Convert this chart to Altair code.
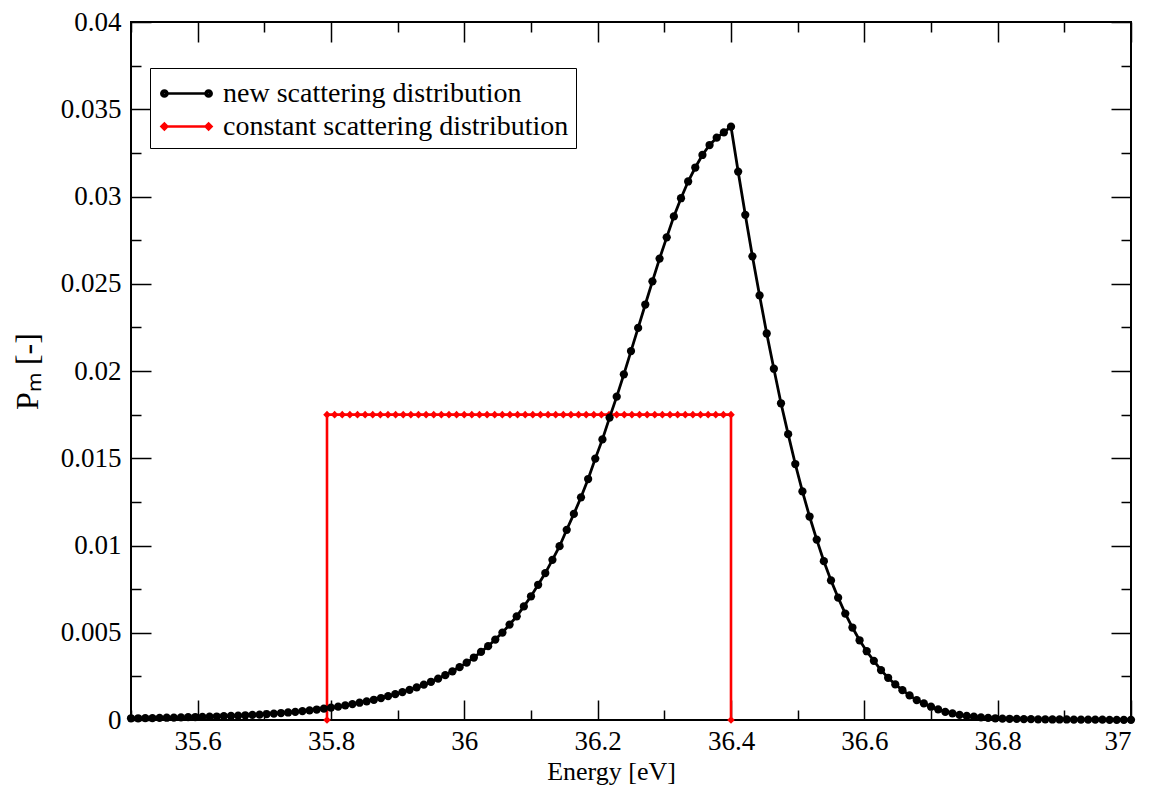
import altair as alt
import numpy as np
import pandas as pd

FONT = "Liberation Serif"

# ---- data ----
series_names = ["new scattering distribution", "constant scattering distribution"]
series_colors = ["black", "red"]

x_major = [35.6, 35.8, 36.0, 36.2, 36.4, 36.6, 36.8, 37.0]
x_minor = [35.5, 35.7, 35.9, 36.1, 36.3, 36.5, 36.7, 36.9]
y_major = [0, 0.005, 0.01, 0.015, 0.02, 0.025, 0.03, 0.035, 0.04]
y_minor = [0.0025, 0.0075, 0.0125, 0.0175, 0.0225, 0.0275, 0.0325, 0.0375]

# new scattering distribution, P_m at 141 evenly spaced energies 35.5 .. 37 eV
new_P = [
    0.00010, 0.00010, 0.00011, 0.00011, 0.00012, 0.00013, 0.00014, 0.00015, 0.00016, 0.00017,
    0.00018, 0.00019, 0.00020, 0.00022, 0.00023, 0.00025, 0.00027, 0.00029, 0.00031, 0.00034,
    0.00037, 0.00040, 0.00043, 0.00047, 0.00051, 0.00055, 0.00060, 0.00065, 0.00071, 0.00077,
    0.00084, 0.00091, 0.00099, 0.00107, 0.00116, 0.00126, 0.00137, 0.00148, 0.00160, 0.00173,
    0.00187, 0.00203, 0.00219, 0.00237, 0.00257, 0.00279, 0.00303, 0.00329, 0.00358, 0.00390,
    0.00423, 0.00461, 0.00501, 0.00547, 0.00594, 0.00651, 0.00709, 0.00775, 0.00842, 0.00918,
    0.00996, 0.01090, 0.01181, 0.01276, 0.01381, 0.01498, 0.01608, 0.01733, 0.01853, 0.01981,
    0.02114, 0.02247, 0.02381, 0.02514, 0.02644, 0.02766, 0.02886, 0.02990, 0.03086, 0.03166,
    0.03238, 0.03295, 0.03337, 0.03367, 0.03400,
    0.03143, 0.02895, 0.02657, 0.02433, 0.02215, 0.02013, 0.01815, 0.01638, 0.01467, 0.01310,
    0.01166, 0.01034, 0.00910, 0.00800, 0.00701, 0.00610, 0.00530, 0.00457, 0.00394, 0.00339,
    0.00286, 0.00242, 0.00204, 0.00171, 0.00141, 0.00114, 0.00095, 0.00076, 0.00061, 0.00047,
    0.00038, 0.00029, 0.00023, 0.00019, 0.00015, 0.00012, 0.00010, 0.00008, 0.00007, 0.00006,
    0.00005, 0.00005, 0.00004, 0.00004, 0.00003, 0.00003, 0.00003, 0.00002, 0.00002, 0.00002,
    0.00002, 0.00002, 0.00001, 0.00001, 0.00001, 0.00001,
]
new_E_start, new_E_end = 35.5, 37.0

# constant scattering distribution
const_E_start, const_E_end = 35.794, 36.4
const_level = 0.0175
const_n_points = 54

# ---- tables ----
new_E = np.linspace(new_E_start, new_E_end, len(new_P))
black_df = pd.DataFrame({"E": new_E, "P": new_P, "series": series_names[0]})

const_E = [const_E_start] + list(np.linspace(const_E_start, const_E_end, const_n_points)) + [const_E_end]
const_P = [0.0] + [const_level] * const_n_points + [0.0]
red_df = pd.DataFrame({"E": const_E, "P": const_P, "series": series_names[1],
                       "order": list(range(len(const_E)))})

W, H = 1000, 698

xs = alt.Scale(domain=[35.5, 37.0], nice=False, zero=False)
ys = alt.Scale(domain=[0, 0.04], nice=False, zero=False)


def tick_axis(orient, offset, values, size):
    return alt.Axis(orient=orient, offset=offset, values=values, labels=False,
                    domain=False, grid=False, ticks=True, tickSize=size,
                    tickWidth=1.5, tickColor="black", title=None)


def circ(cx, r):
    return (f"M{cx + r},0A{r},{r},0,1,0,{cx - r},0A{r},{r},0,1,0,{cx + r},0Z")


def diam(cx, r):
    return f"M{cx - r},0L{cx},{-r}L{cx + r},0L{cx},{r}Z"


half = 1.3
path_black = f"M{-half},0L{half},0" + "".join(circ(c, r) for c in (-half, half) for r in (0.18, 0.1, 0.03))
path_red = f"M{-half},0L{half},0" + "".join(diam(c, r) for c in (-half, half) for r in (0.17, 0.1, 0.04))

legend = alt.Legend(orient="none", legendX=19, legendY=46, title=None,
                    strokeColor="black", fillColor="white", padding=7,
                    symbolOffset=11, labelOffset=18, rowPadding=0,
                    symbolSize=34 * 34, symbolStrokeWidth=2.6, symbolOpacity=1,
                    labelFont=FONT, labelFontSize=28, labelColor="black",
                    labelLimit=600)

# layer carrying labelled axes + legend (draws nothing itself)
legend_layer = alt.Chart(black_df).transform_filter("false").mark_point(
    filled=False, strokeWidth=2.6, opacity=1
).encode(
    x=alt.X("E:Q", scale=xs, axis=alt.Axis(
        orient="bottom", values=x_major, format=".1~f", ticks=False, tickSize=0,
        domain=False, grid=False, labelFont=FONT, labelFontSize=27, labelPadding=8,
        labelColor="black", title="Energy [eV]", titleFont=FONT, titleFontSize=26,
        titleFontWeight="normal", titleColor="black", titleX=480, titleY=51,
        titleBaseline="middle", titleAlign="center")),
    y=alt.Y("P:Q", scale=ys, axis=alt.Axis(
        orient="left", values=y_major, format=".3~f", ticks=False, tickSize=0,
        domain=False, grid=False, labelFont=FONT, labelFontSize=27, labelPadding=10,
        labelColor="black", title="Pₘ [-]", titleFont=FONT, titleFontSize=32,
        titleFontWeight="normal", titleColor="black", titlePadding=16)),
    color=alt.Color("series:N", scale=alt.Scale(domain=series_names, range=series_colors), legend=legend),
    shape=alt.Shape("series:N", scale=alt.Scale(domain=series_names, range=[path_black, path_red]), legend=legend),
)

red_line = alt.Chart(red_df).mark_line(color="red", strokeWidth=2.6).encode(
    x=alt.X("E:Q", scale=xs, axis=tick_axis("top", -H, x_major, 20)),
    y=alt.Y("P:Q", scale=ys, axis=tick_axis("right", -W, y_major, 20)),
    order="order:Q",
)

red_pts = alt.Chart(red_df).mark_point(shape="diamond", filled=True, color="red",
                                        size=58, opacity=1).encode(
    x=alt.X("E:Q", scale=xs, axis=tick_axis("top", -H, x_minor, 10)),
    y=alt.Y("P:Q", scale=ys, axis=tick_axis("right", -W, y_minor, 10)),
)

black_line = alt.Chart(black_df).mark_line(color="black", strokeWidth=2.8).encode(
    x=alt.X("E:Q", scale=xs, axis=tick_axis("bottom", -H, x_major, 20)),
    y=alt.Y("P:Q", scale=ys, axis=tick_axis("left", -W, y_major, 20)),
)

black_pts = alt.Chart(black_df).mark_point(shape="circle", filled=True, color="black",
                                          size=68, opacity=1).encode(
    x=alt.X("E:Q", scale=xs, axis=tick_axis("bottom", -H, x_minor, 10)),
    y=alt.Y("P:Q", scale=ys, axis=tick_axis("left", -W, y_minor, 10)),
)

chart = alt.layer(legend_layer, red_line, red_pts, black_line, black_pts).resolve_scale(
    x="shared", y="shared"
).resolve_axis(
    x="independent", y="independent"
).properties(
    width=W, height=H,
    autosize=alt.AutoSizeParams(type="none"),
    padding={"left": 123, "top": 14, "right": 10, "bottom": 65},
    background="white",
).configure_view(stroke="black", strokeWidth=2)

chart.save("out.html", embed_options={"renderer": "svg", "actions": False})
